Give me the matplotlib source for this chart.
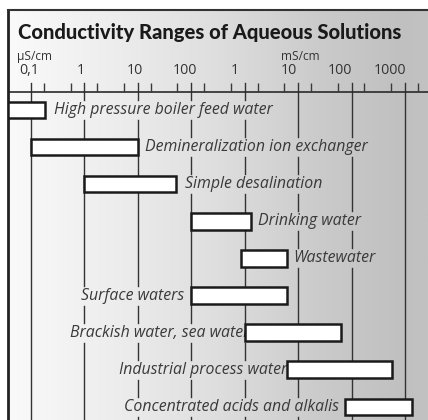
import numpy as np
import matplotlib
matplotlib.use('Agg')
import matplotlib.pyplot as plt
import matplotlib.transforms as mtransforms
from matplotlib.colors import LinearSegmentedColormap

# conductivity ranges in uS/cm (low, high)
solutions = ["High pressure boiler feed water",
             "Demineralization ion exchanger",
             "Simple desalination",
             "Drinking water",
             "Wastewater",
             "Surface waters",
             "Brackish water, sea water",
             "Industrial process water",
             "Concentrated acids and alkalis"]
range_low = [0.037, 0.1, 1, 100, 850, 100, 1000, 6200, 76000]
range_high = [0.18, 10, 52, 1300, 6200, 6200, 64000, 575000, 1350000]
label_side = ["right", "right", "right", "right", "right", "left", "left", "left", "left"]

tick_values = [0.1, 1, 10, 100, 1000, 1e4, 1e5, 1e6]
tick_labels = ["0,1", "1", "10", "100", "1", "10", "100", "1000"]

# layout bits (pixels)
label_gap = [9, 7, 9, 7, 6, -7, 5, 0, -6]
ticklabel_shift = [-2, -4, -3.5, -6, -9.5, -9, -12, -15]

W, H = 428, 420
fig = plt.figure(figsize=(W / 100, H / 100), dpi=100)
ax = fig.add_axes([8 / W, 0, (W - 8) / W, (H - 10) / H])
ax.set_xscale('log')
ax.set_xlim(10 ** -1.4305, 10 ** 6.43)
ax.set_ylim(410, 0)
ax.set_xticks([])
ax.set_yticks([])
ax.minorticks_off()
for s in ['right', 'bottom']:
    ax.spines[s].set_visible(False)
ax.spines['left'].set_linewidth(2.0)
ax.spines['left'].set_color('#222222')
ax.spines['top'].set_linewidth(1.5)
ax.spines['top'].set_color('#333333')

# background gradient
cmap = LinearSegmentedColormap.from_list('bg', [(0.0, '#fafafa'), (0.27, '#ececec'), (0.5, '#dedede'),
                                                (0.74, '#cbcbcb'), (0.94, '#c0c0c0'), (1.0, '#c2c2c2')])
ax.imshow(np.linspace(0, 1, 256)[None, :], extent=[0, 1, 0, 1], transform=ax.transAxes,
          aspect='auto', cmap=cmap, zorder=0)

title_font = ['Lato', 'DejaVu Sans']
sans = ['Open Sans', 'DejaVu Sans']
ax.text(10 / 420, 22, "Conductivity Ranges of Aqueous Solutions",
        transform=mtransforms.blended_transform_factory(ax.transAxes, ax.transData),
        family=title_font, fontsize=14.5, fontweight='black', color='#1a1a1a', va='center', ha='left')
ax.annotate("µS/cm", (0, 46.5), xycoords=('axes fraction', 'data'), xytext=(9, 0), textcoords='offset pixels',
            family=sans, fontsize=8.6, color='#333333', va='center', ha='left')
ax.annotate("mS/cm", (1e4, 46.5), xytext=(-17, 0), textcoords='offset pixels',
            family=sans, fontsize=8.6, color='#333333', va='center', ha='left')
for v, lab, sh in zip(tick_values, tick_labels, ticklabel_shift):
    ax.annotate(lab, (v, 60.5), xytext=(sh, 0), textcoords='offset pixels',
                family=sans, fontsize=10.2, color='#333333', va='center', ha='center')

# axis line and minor ticks
ax.axhline(82, color='#2a2a2a', lw=1.2, zorder=2)
minor = []
for v in tick_values:
    minor += [v * 10 ** -0.26, v * 10 ** 0.24]
minor = minor[1:]
ax.vlines(minor, 73, 82, color='#3a3a3a', lw=1.0, zorder=2)

row_y = [100 + 37.1 * i for i in range(len(solutions))]

# bars
ax.barh(row_y, np.array(range_high) - np.array(range_low), left=range_low, height=16.5,
        color='white', edgecolor='#1a1a1a', linewidth=1.8, zorder=4)

labels = []
for name, lo, hi, side, y, g in zip(solutions, range_low, range_high, label_side, row_y, label_gap):
    if side == "right":
        t = ax.annotate(name, (hi, y), xytext=(g, 0), textcoords='offset pixels', ha='left', va='center')
    else:
        t = ax.annotate(name, (lo, y), xytext=(g, 0), textcoords='offset pixels', ha='right', va='center')
    t.set_family(sans)
    t.set_style('italic')
    t.set_fontsize(11.4)
    t.set_color('#3a3a3a')
    t.set_zorder(3)
    labels.append(t)

# vertical grid lines, broken where the labels sit
fig.canvas.draw()
r = fig.canvas.get_renderer()
inv = ax.transData.inverted()
boxes = []
for t in labels:
    bb = t.get_window_extent(r)
    (x0, y0), (x1, y1) = inv.transform([(bb.x0 - 3, bb.y0 - 2), (bb.x1 + 3, bb.y1 + 2)])
    boxes.append((min(x0, x1), max(x0, x1), min(y0, y1), max(y0, y1)))
for v in tick_values:
    gaps = sorted((b[2], b[3]) for b in boxes if b[0] <= v <= b[1])
    start = 73
    for g0, g1 in gaps:
        ax.plot([v, v], [start, g0], color='#333333', lw=1.0, zorder=1)
        start = g1
    ax.plot([v, v], [start, 410], color='#333333', lw=1.0, zorder=1)

fig.savefig('out.png', dpi=100)
